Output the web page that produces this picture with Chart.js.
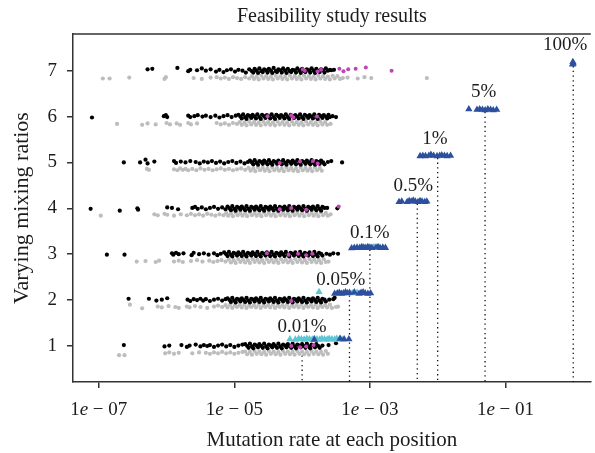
<!DOCTYPE html>
<html>
<head>
<meta charset="utf-8">
<script src="https://cdn.jsdelivr.net/npm/chart.js@4.4.1/dist/chart.umd.min.js"></script>
<style>
  html, body { margin: 0; padding: 0; background: #fff; }
  #wrap { width: 595px; height: 453px; }
</style>
</head>
<body>
<div id="wrap"><canvas id="feasChart" width="595" height="453"></canvas></div>
<script>
// rows of the plot and the spiked-in mutation rates
const rows = [1, 2, 3, 4, 5, 6, 7];
const rateNames = ['0.01%', '0.05%', '0.1%', '0.5%', '1%', '5%', '100%'];
const spikeRates = [1e-4, 5e-4, 1e-3, 5e-3, 1e-2, 5e-2, 1];
const xTickExps = [-7, -5, -3, -1];
const yTicks = [1, 2, 3, 4, 5, 6, 7];

// points are [log10(rate), y]
const black7 = [[-6.28,7.03],[-6.21,7.04],[-5.84,7.06],[-5.68,6.99],[-5.65,7.02],[-5.55,7.01],[-5.48,7.05],[-5.42,7.00],[-5.35,7.03],
[-5.27,6.98],[-5.22,7.02],[-5.16,6.97],[-5.11,7.01],[-5.05,7.03],[-4.99,6.98],[-4.94,7.02],[-4.88,7.00],[-4.83,6.96],[-4.78,7.03],[-4.74,6.99],
[-4.70,7.04],[-4.63,7.05],[-4.56,7.03],[-4.49,7.04],[-4.42,7.06],[-4.35,7.03],[-4.28,7.05],[-4.21,7.04],[-4.14,7.02],[-4.07,7.05],[-4.00,7.04],[-3.93,7.03],[-3.86,7.05],[-3.79,7.04],[-3.72,7.03],[-3.65,7.05],[-3.59,7.02],
[-4.67,7.00],[-4.60,6.99],[-4.53,7.01],[-4.46,7.00],[-4.39,6.99],[-4.32,7.01],[-4.25,7.00],[-4.18,6.99],[-4.11,7.01],[-4.04,7.00],[-3.97,6.99],[-3.90,7.01],[-3.83,7.00],[-3.76,6.99],[-3.69,7.01],[-3.62,7.00],
[-4.72,6.96],[-4.65,6.95],[-4.58,6.97],[-4.51,6.96],[-4.44,6.95],[-4.37,6.97],[-4.30,6.96],[-4.23,6.95],[-4.16,6.97],[-4.09,6.96],[-4.02,6.95],[-3.95,6.97],[-3.88,6.96],[-3.81,6.95],[-3.74,6.97],[-3.67,6.96],
[-3.57,7.01],[-3.53,7.02]];
const grey7 = [[-6.94,6.83],[-6.84,6.83],[-6.55,6.85],[-6.03,6.82],[-6.01,6.86],[-5.60,6.84],[-5.48,6.82],[-5.35,6.85],
[-5.26,6.86],[-5.20,6.83],[-5.14,6.85],[-5.08,6.82],[-5.02,6.86],[-4.96,6.84],[-4.90,6.82],[-4.84,6.86],[-4.78,6.83],
[-4.74,6.88],[-4.67,6.87],[-4.60,6.89],[-4.53,6.88],[-4.46,6.87],[-4.39,6.89],[-4.32,6.88],[-4.25,6.87],[-4.18,6.89],[-4.11,6.88],[-4.04,6.87],[-3.97,6.89],[-3.90,6.88],[-3.83,6.87],[-3.76,6.89],[-3.69,6.88],[-3.62,6.87],[-3.55,6.89],[-3.48,6.88],
[-4.71,6.82],[-4.64,6.81],[-4.57,6.83],[-4.50,6.82],[-4.43,6.81],[-4.36,6.83],[-4.29,6.82],[-4.22,6.81],[-4.15,6.83],[-4.08,6.82],[-4.01,6.81],[-3.94,6.83],[-3.87,6.82],[-3.80,6.81],[-3.73,6.83],[-3.66,6.82],[-3.59,6.81],[-3.52,6.83],[-3.44,6.82],
[-3.40,6.84],[-3.33,6.85],[-3.18,6.83],[-3.08,6.86],[-2.98,6.84],[-2.16,6.84]];

const black6 = [[-7.10,5.98],[-6.04,6.01],[-6.01,6.03],[-5.99,5.99],[-5.68,6.02],[-5.65,5.99],[-5.59,6.01],[-5.54,6.03],[-5.47,6.00],[-5.42,6.02],[-5.35,5.99],
[-5.28,6.02],[-5.22,5.98],[-5.16,6.01],[-5.10,6.03],[-5.04,5.99],[-4.98,6.02],
[-4.94,6.04],[-4.87,6.05],[-4.80,6.03],[-4.73,6.04],[-4.66,6.05],[-4.59,6.04],[-4.52,6.03],[-4.45,6.05],[-4.38,6.04],[-4.31,6.03],[-4.24,6.05],[-4.17,6.04],[-4.10,6.03],[-4.03,6.05],[-3.96,6.04],[-3.89,6.03],[-3.82,6.05],[-3.75,6.04],[-3.68,6.03],[-3.61,6.04],
[-4.91,6.00],[-4.84,5.99],[-4.77,6.01],[-4.70,6.00],[-4.63,5.99],[-4.56,6.01],[-4.49,6.00],[-4.42,5.99],[-4.35,6.01],[-4.28,6.00],[-4.21,5.99],[-4.14,6.01],[-4.07,6.00],[-4.00,5.99],[-3.93,6.01],[-3.86,6.00],[-3.79,5.99],[-3.72,6.01],[-3.65,6.00],[-3.59,5.99],
[-4.89,5.96],[-4.82,5.95],[-4.75,5.97],[-4.68,5.96],[-4.61,5.95],[-4.54,5.97],[-4.47,5.96],[-4.40,5.95],[-4.33,5.97],[-4.26,5.96],[-4.19,5.95],[-4.12,5.97],[-4.05,5.96],[-3.98,5.95],[-3.91,5.97],[-3.84,5.96],[-3.77,5.95],[-3.70,5.97],[-3.63,5.96],
[-3.55,6.01],[-3.50,5.99]];
const grey6 = [[-6.73,5.84],[-6.36,5.82],[-6.28,5.85],[-6.16,5.83],[-6.00,5.86],[-5.95,5.83],[-5.85,5.85],[-5.80,5.82],[-5.68,5.86],[-5.64,5.83],[-5.55,5.85],
[-5.26,5.86],[-5.20,5.83],[-5.14,5.85],[-5.08,5.82],[-5.02,5.86],[-4.96,5.84],
[-4.92,5.88],[-4.85,5.87],[-4.78,5.89],[-4.71,5.88],[-4.64,5.87],[-4.57,5.89],[-4.50,5.88],[-4.43,5.87],[-4.36,5.89],[-4.29,5.88],[-4.22,5.87],[-4.15,5.89],[-4.08,5.88],[-4.01,5.87],[-3.94,5.89],[-3.87,5.88],[-3.80,5.87],[-3.73,5.89],[-3.66,5.88],
[-4.89,5.82],[-4.82,5.81],[-4.75,5.83],[-4.68,5.82],[-4.61,5.81],[-4.54,5.83],[-4.47,5.82],[-4.40,5.81],[-4.33,5.83],[-4.26,5.82],[-4.19,5.81],[-4.12,5.83],[-4.05,5.82],[-3.98,5.81],[-3.91,5.83],[-3.84,5.82],[-3.77,5.81],[-3.70,5.83],[-3.63,5.82],[-3.58,5.84]];

const black5 = [[-6.63,5.00],[-6.39,5.00],[-6.31,5.06],[-6.28,4.98],[-6.18,5.02],[-5.89,5.03],[-5.86,4.99],[-5.79,5.02],[-5.72,5.00],[-5.65,5.03],
[-5.57,5.01],[-5.51,4.98],[-5.45,5.02],[-5.39,5.00],[-5.33,5.03],[-5.27,4.99],[-5.21,5.02],[-5.15,4.98],[-5.09,5.01],[-5.03,5.03],[-4.97,4.99],[-4.91,5.02],[-4.85,4.98],[-4.80,5.01],
[-4.77,5.04],[-4.70,5.05],[-4.63,5.03],[-4.56,5.04],[-4.49,5.05],[-4.42,5.03],[-4.35,5.04],[-4.28,5.05],[-4.21,5.03],[-4.14,5.04],[-4.07,5.05],[-4.00,5.03],[-3.93,5.04],[-3.86,5.05],[-3.79,5.03],[-3.72,5.04],
[-4.74,5.00],[-4.67,4.99],[-4.60,5.01],[-4.53,5.00],[-4.46,4.99],[-4.39,5.01],[-4.32,5.00],[-4.25,4.99],[-4.18,5.01],[-4.11,5.00],[-4.04,4.99],[-3.97,5.01],[-3.90,5.00],[-3.83,4.99],[-3.76,5.01],[-3.69,5.00],
[-4.72,4.96],[-4.65,4.95],[-4.58,4.97],[-4.51,4.96],[-4.44,4.95],[-4.37,4.97],[-4.30,4.96],[-4.23,4.95],[-4.16,4.97],[-4.09,4.96],[-4.02,4.95],[-3.95,4.97],[-3.88,4.96],[-3.81,4.95],[-3.74,4.97],[-3.67,4.96],
[-3.62,5.01],[-3.57,5.03],[-3.41,5.00]];
const grey5 = [[-6.29,4.86],[-6.26,4.84],[-5.89,4.85],[-5.84,4.83],[-5.80,4.87],[-5.76,4.84],[-5.72,4.86],[-5.68,4.83],
[-5.62,4.86],[-5.56,4.83],[-5.50,4.87],[-5.44,4.84],[-5.38,4.86],[-5.32,4.83],[-5.26,4.85],[-5.20,4.87],[-5.14,4.84],[-5.08,4.86],[-5.02,4.83],[-4.96,4.85],[-4.90,4.87],[-4.84,4.84],
[-4.79,4.88],[-4.72,4.87],[-4.65,4.89],[-4.58,4.88],[-4.51,4.87],[-4.44,4.89],[-4.37,4.88],[-4.30,4.87],[-4.23,4.89],[-4.16,4.88],[-4.09,4.87],[-4.02,4.89],[-3.95,4.88],[-3.88,4.87],[-3.81,4.89],[-3.74,4.88],
[-4.76,4.82],[-4.69,4.81],[-4.62,4.83],[-4.55,4.82],[-4.48,4.81],[-4.41,4.83],[-4.34,4.82],[-4.27,4.81],[-4.20,4.83],[-4.13,4.82],[-4.06,4.81],[-3.99,4.83],[-3.92,4.82],[-3.85,4.81],[-3.78,4.83],[-3.71,4.82]];

const black4 = [[-7.12,3.99],[-6.69,3.95],[-6.43,4.00],[-6.42,3.97],[-5.99,4.02],[-5.92,4.01],[-5.83,3.98],[-5.62,4.01],[-5.58,4.03],
[-5.54,3.99],[-5.48,4.02],[-5.42,3.98],[-5.36,4.01],[-5.30,4.03],[-5.24,3.99],[-5.18,4.02],[-5.13,3.98],
[-5.10,4.04],[-5.03,4.05],[-4.96,4.03],[-4.89,4.04],[-4.82,4.05],[-4.75,4.03],[-4.68,4.04],[-4.61,4.05],[-4.54,4.03],[-4.47,4.04],[-4.40,4.05],[-4.33,4.03],[-4.26,4.04],[-4.19,4.05],[-4.12,4.03],[-4.05,4.04],[-3.98,4.05],[-3.91,4.03],[-3.84,4.04],[-3.77,4.05],[-3.70,4.03],
[-5.07,4.00],[-5.00,3.99],[-4.93,4.01],[-4.86,4.00],[-4.79,3.99],[-4.72,4.01],[-4.65,4.00],[-4.58,3.99],[-4.51,4.01],[-4.44,4.00],[-4.37,3.99],[-4.30,4.01],[-4.23,4.00],[-4.16,3.99],[-4.09,4.01],[-4.02,4.00],[-3.95,3.99],[-3.88,4.01],[-3.81,4.00],[-3.74,3.99],[-3.67,4.01],
[-5.05,3.96],[-4.98,3.95],[-4.91,3.97],[-4.84,3.96],[-4.77,3.95],[-4.70,3.97],[-4.63,3.96],[-4.56,3.95],[-4.49,3.97],[-4.42,3.96],[-4.35,3.95],[-4.28,3.97],[-4.21,3.96],[-4.14,3.95],[-4.07,3.97],[-4.00,3.96],[-3.93,3.95],[-3.86,3.97],[-3.79,3.96],[-3.72,3.95],
[-3.63,4.01],[-3.48,4.00]];
const grey4 = [[-6.97,3.84],[-6.18,3.87],[-6.13,3.85],[-6.03,3.88],[-5.99,3.86],[-5.89,3.84],[-5.79,3.87],[-5.70,3.85],
[-5.64,3.88],[-5.58,3.85],[-5.52,3.87],[-5.46,3.84],[-5.40,3.88],[-5.34,3.86],[-5.28,3.84],[-5.22,3.87],[-5.16,3.85],
[-5.12,3.90],[-5.05,3.89],[-4.98,3.91],[-4.91,3.90],[-4.84,3.89],[-4.77,3.91],[-4.70,3.90],[-4.63,3.89],[-4.56,3.91],[-4.49,3.90],[-4.42,3.89],[-4.35,3.91],[-4.28,3.90],[-4.21,3.89],[-4.14,3.91],[-4.07,3.90],[-4.00,3.89],[-3.93,3.91],[-3.86,3.90],[-3.79,3.89],[-3.72,3.91],[-3.65,3.90],
[-5.09,3.84],[-5.02,3.83],[-4.95,3.85],[-4.88,3.84],[-4.81,3.83],[-4.74,3.85],[-4.67,3.84],[-4.60,3.83],[-4.53,3.85],[-4.46,3.84],[-4.39,3.83],[-4.32,3.85],[-4.25,3.84],[-4.18,3.83],[-4.11,3.85],[-4.04,3.84],[-3.97,3.83],[-3.90,3.85],[-3.83,3.84],[-3.76,3.83],[-3.69,3.85],[-3.62,3.84],
[-3.58,3.87]];

const black3 = [[-6.88,2.99],[-6.62,2.99],[-5.92,3.02],[-5.90,2.99],[-5.86,3.03],[-5.82,3.00],[-5.75,3.02],[-5.63,2.98],[-5.60,3.03],[-5.52,3.00],[-5.45,3.02],[-5.38,2.99],[-5.30,3.02],[-5.25,2.98],[-5.20,3.01],
[-5.15,3.04],[-5.08,3.05],[-5.01,3.03],[-4.94,3.04],[-4.87,3.05],[-4.80,3.03],[-4.73,3.04],[-4.66,3.05],[-4.59,3.03],[-4.52,3.04],[-4.45,3.05],[-4.38,3.03],[-4.31,3.04],[-4.24,3.05],[-4.17,3.03],[-4.10,3.04],[-4.03,3.05],[-3.96,3.03],[-3.89,3.04],[-3.82,3.05],[-3.75,3.03],
[-5.12,3.00],[-5.05,2.99],[-4.98,3.01],[-4.91,3.00],[-4.84,2.99],[-4.77,3.01],[-4.70,3.00],[-4.63,2.99],[-4.56,3.01],[-4.49,3.00],[-4.42,2.99],[-4.35,3.01],[-4.28,3.00],[-4.21,2.99],[-4.14,3.01],[-4.07,3.00],[-4.00,2.99],[-3.93,3.01],[-3.86,3.00],[-3.79,2.99],[-3.72,3.01],
[-5.10,2.96],[-5.03,2.95],[-4.96,2.97],[-4.89,2.96],[-4.82,2.95],[-4.75,2.97],[-4.68,2.96],[-4.61,2.95],[-4.54,2.97],[-4.47,2.96],[-4.40,2.95],[-4.33,2.97],[-4.26,2.96],[-4.19,2.95],[-4.12,2.97],[-4.05,2.96],[-3.98,2.95],[-3.91,2.97],[-3.84,2.96],[-3.77,2.95],[-3.70,2.97],
[-3.64,3.01],[-3.59,2.99],[-3.54,3.02],[-3.47,3.01]];
const grey3 = [[-6.44,2.84],[-6.31,2.85],[-6.16,2.83],[-6.11,2.86],[-5.89,2.84],[-5.82,2.86],[-5.76,2.83],[-5.64,2.85],[-5.55,2.87],[-5.47,2.84],
[-5.37,2.86],[-5.31,2.83],[-5.25,2.85],[-5.19,2.87],[-5.13,2.84],
[-5.08,2.88],[-5.01,2.87],[-4.94,2.89],[-4.87,2.88],[-4.80,2.87],[-4.73,2.89],[-4.66,2.88],[-4.59,2.87],[-4.52,2.89],[-4.45,2.88],[-4.38,2.87],[-4.31,2.89],[-4.24,2.88],[-4.17,2.87],[-4.10,2.89],[-4.03,2.88],[-3.96,2.87],[-3.89,2.89],[-3.82,2.88],[-3.75,2.87],[-3.68,2.89],
[-5.05,2.82],[-4.98,2.81],[-4.91,2.83],[-4.84,2.82],[-4.77,2.81],[-4.70,2.83],[-4.63,2.82],[-4.56,2.81],[-4.49,2.83],[-4.42,2.82],[-4.35,2.81],[-4.28,2.83],[-4.21,2.82],[-4.14,2.81],[-4.07,2.83],[-4.00,2.82],[-3.93,2.81],[-3.86,2.83],[-3.79,2.82],[-3.72,2.81],[-3.65,2.83],[-3.61,2.84]];

const black2 = [[-6.56,2.03],[-6.26,2.03],[-6.15,1.99],[-6.07,2.01],[-5.99,2.04],[-5.69,2.01],[-5.65,1.98],[-5.60,2.02],[-5.55,2.00],[-5.50,2.03],[-5.46,1.99],
[-5.42,2.02],[-5.36,1.98],[-5.30,2.01],[-5.24,2.03],[-5.18,1.99],[-5.13,2.02],
[-5.10,2.04],[-5.03,2.05],[-4.96,2.03],[-4.89,2.04],[-4.82,2.05],[-4.75,2.03],[-4.68,2.04],[-4.61,2.05],[-4.54,2.03],[-4.47,2.04],[-4.40,2.05],[-4.33,2.03],[-4.26,2.04],[-4.19,2.05],[-4.12,2.03],[-4.05,2.04],[-3.98,2.05],[-3.91,2.03],[-3.84,2.04],[-3.77,2.05],[-3.70,2.03],
[-5.07,2.00],[-5.00,1.99],[-4.93,2.01],[-4.86,2.00],[-4.79,1.99],[-4.72,2.01],[-4.65,2.00],[-4.58,1.99],[-4.51,2.01],[-4.44,2.00],[-4.37,1.99],[-4.30,2.01],[-4.23,2.00],[-4.16,1.99],[-4.09,2.01],[-4.02,2.00],[-3.95,1.99],[-3.88,2.01],[-3.81,2.00],[-3.74,1.99],[-3.67,2.01],
[-5.05,1.96],[-4.98,1.95],[-4.91,1.97],[-4.84,1.96],[-4.77,1.95],[-4.70,1.97],[-4.63,1.96],[-4.56,1.95],[-4.49,1.97],[-4.42,1.96],[-4.35,1.95],[-4.28,1.97],[-4.21,1.96],[-4.14,1.95],[-4.07,1.97],[-4.00,1.96],[-3.93,1.95],[-3.86,1.97],[-3.79,1.96],[-3.72,1.95],[-3.65,1.97],
[-3.60,2.01],[-3.54,2.02],[-3.52,2.05]];
const grey2 = [[-6.54,1.90],[-6.36,1.82],[-6.13,1.86],[-6.07,1.84],[-5.97,1.87],[-5.87,1.85],[-5.82,1.83],[-5.70,1.86],[-5.66,1.84],[-5.58,1.87],[-5.50,1.85],[-5.40,1.83],[-5.30,1.86],
[-5.24,1.88],[-5.18,1.85],
[-5.13,1.89],[-5.06,1.90],[-4.99,1.88],[-4.92,1.89],[-4.85,1.90],[-4.78,1.88],[-4.71,1.89],[-4.64,1.90],[-4.57,1.88],[-4.50,1.89],[-4.43,1.90],[-4.36,1.88],[-4.29,1.89],[-4.22,1.90],[-4.15,1.88],[-4.08,1.89],[-4.01,1.90],[-3.94,1.88],[-3.87,1.89],[-3.80,1.90],[-3.73,1.88],[-3.66,1.89],[-3.59,1.90],
[-5.10,1.84],[-5.03,1.83],[-4.96,1.85],[-4.89,1.84],[-4.82,1.83],[-4.75,1.85],[-4.68,1.84],[-4.61,1.83],[-4.54,1.85],[-4.47,1.84],[-4.40,1.83],[-4.33,1.85],[-4.26,1.84],[-4.19,1.83],[-4.12,1.85],[-4.05,1.84],[-3.98,1.83],[-3.91,1.85],[-3.84,1.84],[-3.77,1.83],[-3.70,1.85],[-3.63,1.84],[-3.56,1.83],[-3.50,1.85],
[-3.47,1.86]];

const black1 = [[-6.63,1.02],[-6.03,0.99],[-5.96,1.01],[-5.78,1.02],[-5.70,0.98],[-5.66,1.01],[-5.57,1.03],[-5.50,0.99],[-5.45,1.02],[-5.40,1.00],
[-5.36,1.02],[-5.30,0.98],[-5.24,1.01],[-5.18,1.03],[-5.12,0.99],[-5.06,1.02],[-5.00,0.98],[-4.94,1.01],[-4.88,1.03],
[-4.84,1.04],[-4.77,1.05],[-4.70,1.03],[-4.63,1.04],[-4.56,1.05],[-4.49,1.03],[-4.42,1.04],[-4.35,1.05],[-4.28,1.03],[-4.21,1.04],[-4.14,1.05],[-4.07,1.03],[-4.00,1.04],[-3.93,1.05],[-3.86,1.03],[-3.79,1.04],
[-4.81,1.00],[-4.74,0.99],[-4.67,1.01],[-4.60,1.00],[-4.53,0.99],[-4.46,1.01],[-4.39,1.00],[-4.32,0.99],[-4.25,1.01],[-4.18,1.00],[-4.11,0.99],[-4.04,1.01],[-3.97,1.00],[-3.90,0.99],[-3.83,1.01],[-3.76,1.00],
[-4.79,0.96],[-4.72,0.95],[-4.65,0.97],[-4.58,0.96],[-4.51,0.95],[-4.44,0.97],[-4.37,0.96],[-4.30,0.95],[-4.23,0.97],[-4.16,0.96],[-4.09,0.95],[-4.02,0.97],[-3.95,0.96],[-3.88,0.95],[-3.81,0.97],[-3.74,0.96],
[-3.70,1.01],[-3.61,1.02],[-3.50,1.06]];
const grey1 = [[-6.70,0.80],[-6.62,0.80],[-6.02,0.84],[-5.96,0.86],[-5.89,0.83],[-5.82,0.85],[-5.62,0.84],[-5.52,0.86],
[-5.42,0.85],[-5.36,0.83],[-5.30,0.86],[-5.24,0.84],[-5.18,0.87],[-5.12,0.84],[-5.06,0.86],[-5.00,0.83],[-4.94,0.85],[-4.88,0.87],
[-4.84,0.88],[-4.77,0.87],[-4.70,0.89],[-4.63,0.88],[-4.56,0.87],[-4.49,0.89],[-4.42,0.88],[-4.35,0.87],[-4.28,0.89],[-4.21,0.88],[-4.14,0.87],[-4.07,0.89],[-4.00,0.88],[-3.93,0.87],[-3.86,0.89],[-3.79,0.88],[-3.72,0.87],[-3.65,0.89],
[-4.81,0.82],[-4.74,0.81],[-4.67,0.83],[-4.60,0.82],[-4.53,0.81],[-4.46,0.83],[-4.39,0.82],[-4.32,0.81],[-4.25,0.83],[-4.18,0.82],[-4.11,0.81],[-4.04,0.83],[-3.97,0.82],[-3.90,0.81],[-3.83,0.83],[-3.76,0.82],[-3.69,0.81],[-3.62,0.83]];

const pinkPts = [[-3.99,7.03],[-3.96,7.00],[-3.77,6.98],[-3.72,7.02],[-3.45,7.04],[-3.39,6.99],[-3.32,7.03],[-3.21,7.04],[-3.06,7.07],[-2.68,7.00],
[-4.51,6.01],[-4.16,6.03],[-4.13,5.98],[-3.78,6.00],
[-4.33,4.99],[-4.03,5.02],[-3.84,5.03],[-3.77,4.98],
[-4.33,3.98],[-4.16,4.01],[-3.94,3.97],[-3.46,4.04],
[-4.52,3.02],[-4.20,2.99],[-4.06,3.01],[-3.94,2.98],[-3.85,3.01],
[-4.16,1.98],
[-4.16,1.00],[-4.03,0.97],[-3.94,0.99],[-3.83,1.02]];

const cyanTri = [[-4.18,1.15],[-4.10,1.14],[-4.05,1.16],[-4.01,1.15],[-3.97,1.14],[-3.93,1.16],[-3.89,1.15],[-3.85,1.14],[-3.82,1.16],[-3.78,1.15],
[-3.74,1.14],[-3.71,1.16],[-3.67,1.15],[-3.63,1.14],[-3.60,1.16],[-3.56,1.15],[-3.52,1.14],[-3.49,1.16],[-3.45,1.15],[-3.41,1.14],
[-3.75,2.18],[-3.26,2.15],[-3.19,2.16],
[-2.94,3.16]];

const blueTri = [[-3.82,1.14],[-3.44,1.16],[-3.38,1.15],[-3.31,1.15],
[-3.52,2.14],[-3.48,2.15],[-3.45,2.16],[-3.42,2.14],[-3.39,2.15],[-3.36,2.17],[-3.33,2.15],[-3.30,2.16],[-3.23,2.17],[-3.16,2.14],[-3.13,2.16],[-3.10,2.17],[-3.07,2.15],[-3.03,2.14],[-2.99,2.15],
[-3.27,3.13],[-3.23,3.14],[-3.19,3.15],[-3.15,3.14],[-3.12,3.16],[-3.09,3.15],[-3.06,3.14],[-3.03,3.16],[-3.00,3.15],[-2.97,3.14],[-2.91,3.15],[-2.88,3.16],[-2.85,3.14],[-2.81,3.15],[-2.77,3.14],
[-2.57,4.14],[-2.53,4.15],[-2.45,4.14],[-2.42,4.16],[-2.39,4.15],[-2.36,4.17],[-2.33,4.15],[-2.29,4.14],[-2.26,4.16],[-2.23,4.15],[-2.19,4.14],[-2.16,4.15],
[-2.26,5.14],[-2.22,5.15],[-2.18,5.14],[-2.13,5.15],[-2.10,5.17],[-2.06,5.15],[-2.01,5.14],[-1.97,5.15],[-1.94,5.16],[-1.90,5.15],[-1.86,5.14],[-1.81,5.15],
[-1.54,6.16],[-1.42,6.15],[-1.38,6.16],[-1.34,6.15],[-1.30,6.14],[-1.26,6.16],[-1.22,6.15],[-1.18,6.14],[-1.13,6.15],
[-0.01,7.14],[0.0,7.16],[-0.005,7.19]];

// centre of each percentage label, [log10(rate), y]
const labelSpots = [[-4.0,1.42],[-3.43,2.44],[-3.0,3.46],[-2.36,4.49],[-2.04,5.51],[-1.32,6.54],[-0.12,7.56]];

const X_MIN = Math.pow(10, -7.38);
const X_MAX = Math.pow(10, 0.259);
const Y_MIN = 0.215;
const Y_MAX = 7.8;
const serif = "'Liberation Serif', 'Times New Roman', serif";
const ink = '#1c1c1c';

const toXY = pts => pts.map(p => ({ x: Math.pow(10, p[0]), y: p[1] }));

const greyAll = [].concat(grey1, grey2, grey3, grey4, grey5, grey6, grey7);
const blackAll = [].concat(black1, black2, black3, black4, black5, black6, black7);

const dotLines = spikeRates.map((r, i) => ({
    type: 'line',
    data: [{ x: r, y: rows[i] + 0.1 }, { x: r, y: Y_MIN }],
    borderColor: '#111',
    borderWidth: 1.3,
    borderDash: [1.3, 3.4],
    pointRadius: 0,
    showLine: true,
    order: 10
}));

const decor = {
    id: 'decor',
    afterDatasetsDraw(chart) {
        const ctx = chart.ctx;
        const xs = chart.scales.x, ys = chart.scales.y;
        ctx.save();
        ctx.fillStyle = ink;
        ctx.font = '19px ' + serif;
        ctx.textAlign = 'center';
        ctx.textBaseline = 'middle';
        labelSpots.forEach((s, i) => {
            ctx.fillText(rateNames[i], xs.getPixelForValue(Math.pow(10, s[0])), ys.getPixelForValue(s[1]));
        });
        ctx.restore();
    },
    afterDraw(chart) {
        const ctx = chart.ctx;
        const area = chart.chartArea;
        const xs = chart.scales.x;
        ctx.save();
        // top frame line
        ctx.strokeStyle = '#333';
        ctx.lineWidth = 1.5;
        ctx.beginPath();
        ctx.moveTo(area.left, area.top);
        ctx.lineTo(area.right, area.top);
        ctx.stroke();

        // title
        ctx.fillStyle = ink;
        ctx.font = '20px ' + serif;
        ctx.textAlign = 'center';
        ctx.textBaseline = 'alphabetic';
        ctx.fillText('Feasibility study results', (area.left + area.right) / 2, 22);

        // x tick labels: 1e − 07 with italic e
        ctx.textAlign = 'left';
        xTickExps.forEach(e => {
            const px = xs.getPixelForValue(Math.pow(10, e));
            const tail = ' \u2212 0' + Math.abs(e);
            ctx.font = '19px ' + serif;
            const w1 = ctx.measureText('1').width;
            const w3 = ctx.measureText(tail).width;
            ctx.font = 'italic 19px ' + serif;
            const w2 = ctx.measureText('e').width;
            let x0 = px - (w1 + w2 + w3) / 2;
            ctx.font = '19px ' + serif;
            ctx.fillText('1', x0, 415);
            ctx.font = 'italic 19px ' + serif;
            ctx.fillText('e', x0 + w1, 415);
            ctx.font = '19px ' + serif;
            ctx.fillText(tail, x0 + w1 + w2, 415);
        });
        ctx.restore();
    }
};

const ctxFeas = document.getElementById('feasChart').getContext('2d');
const feasChart = new Chart(ctxFeas, {
    type: 'scatter',
    data: {
        datasets: dotLines.concat([
            { data: toXY(greyAll), backgroundColor: '#bdbdbd', borderWidth: 0, pointRadius: 2.1, order: 6 },
            { data: toXY(blackAll), backgroundColor: '#000', borderWidth: 0, pointRadius: 2.1, order: 5 },
            { data: toXY(pinkPts), backgroundColor: '#bd45b4', borderWidth: 0, pointRadius: 2.0, order: 4 },
            { data: toXY(cyanTri), pointStyle: 'triangle', backgroundColor: '#5cc6d4', borderWidth: 0, pointRadius: 4.2, order: 3 },
            { data: toXY(blueTri), pointStyle: 'triangle', backgroundColor: '#2c4f9e', borderWidth: 0, pointRadius: 4.2, order: 2 }
        ])
    },
    options: {
        responsive: false,
        animation: false,
        layout: { padding: { left: 0, right: 0, top: 34, bottom: 0 } },
        plugins: { legend: { display: false }, tooltip: { enabled: false } },
        scales: {
            x: {
                type: 'logarithmic',
                min: X_MIN,
                max: X_MAX,
                afterBuildTicks: s => { s.ticks = xTickExps.map(e => ({ value: Math.pow(10, e) })); },
                afterFit: s => { s.height = 71; },
                ticks: { display: false },
                grid: { display: true, drawOnChartArea: false, drawTicks: true, tickLength: 6, color: '#333', lineWidth: 1.5 },
                border: { display: true, color: '#333', width: 1.5 },
                title: {
                    display: true,
                    text: 'Mutation rate at each position',
                    color: ink,
                    font: { family: serif, size: 21 },
                    padding: { top: 0, bottom: 0 }
                }
            },
            y: {
                min: Y_MIN,
                max: Y_MAX,
                afterBuildTicks: s => { s.ticks = yTicks.map(v => ({ value: v })); },
                afterFit: s => { s.width = 73; },
                ticks: { color: ink, font: { family: serif, size: 19 }, padding: 10 },
                grid: { display: true, drawOnChartArea: false, drawTicks: true, tickLength: 6, color: '#333', lineWidth: 1.5 },
                border: { display: true, color: '#333', width: 1.5 },
                title: {
                    display: true,
                    text: 'Varying mixing ratios',
                    color: ink,
                    font: { family: serif, size: 22 },
                    padding: { top: 9, bottom: 0 }
                }
            }
        }
    },
    plugins: [decor]
});
</script>
</body>
</html>
